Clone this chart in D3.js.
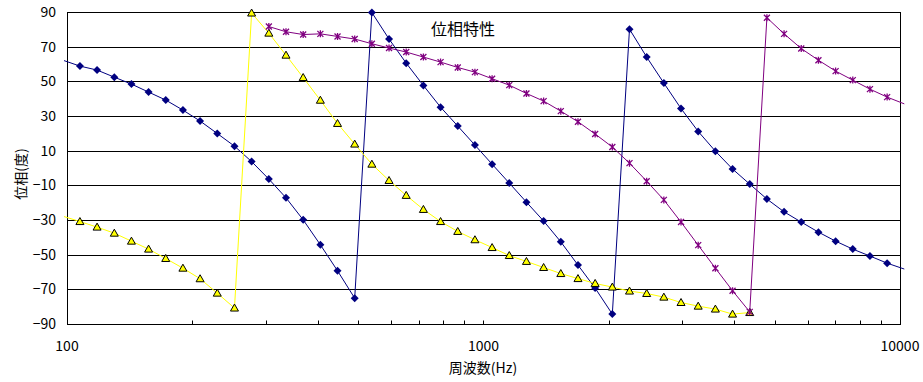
<!DOCTYPE html>
<html><head><meta charset="utf-8">
<script src="https://cdn.jsdelivr.net/npm/d3@7"></script>
<style>body{margin:0;background:#fff;} svg{display:block;}</style>
</head><body>
<script>
const freqs = [97.7,107.4,118.1,129.9,142.8,157.0,172.6,189.8,208.7,229.5,252.4,277.5,305.2,335.6,369.0,405.8,446.2,490.6,539.5,593.2,652.3,717.3,788.7,867.3,953.7,1048.7,1153.1,1268.0,1394.3,1533.2,1685.9,1853.8,2038.5,2241.5,2464.8,2710.3,2980.3,3277.1,3603.6,3962.5,4357.2,4791.2,5268.4,5793.2,6370.2,7004.7,7702.4,8469.6,9313.3,10241];
const blueVals = [62.2,58.8,56.5,52.4,48.4,43.8,39.2,33.4,27.1,19.9,12.6,3.7,-6.4,-17.2,-29.9,-44.3,-59.3,-75.1,89.7,74.4,60.5,47.6,35.1,24.2,13.2,2.2,-8.7,-19.7,-30.6,-42.6,-56,-69.3,-84.3,80.1,64,49,34.3,21.1,9.7,-0.6,-9.3,-17.9,-25.3,-31.2,-37,-42.2,-46.8,-50.8,-54.9,-58.3];
const yellowVals = [-27.8,-30.9,-34.1,-37.6,-42.2,-46.8,-52.2,-57.8,-63.9,-72.2,-80.8,89.4,77.8,65.1,52.2,39.1,25.7,13.8,2.2,-7.2,-15.8,-23.9,-30.9,-36.6,-41.4,-45.9,-50.5,-53.9,-57.4,-60.9,-63.8,-66.6,-68.7,-71,-72.4,-74.5,-77.6,-79.7,-81.4,-84.3,-83.4,null,null,null,null,null,null,null,null,null];
const purpleVals = [null,null,null,null,null,null,null,null,null,null,null,null,81.6,78.6,77,77.4,75.9,74.4,71.7,69.2,66.9,64,61.1,58,55.3,51.5,47.8,43,38.6,32.8,26.7,19.6,12.1,2.8,-7.6,-18.4,-31.2,-44.5,-57.8,-70.8,-83,86.7,77.4,68.9,62.2,55.9,50.7,45.5,40.9,37];
const yTicks = [90,70,50,30,10,-10,-30,-50,-70,-90];
const xTicks = [100,1000,10000];
const titleText = "位相特性";
const xTitle = "周波数(Hz)";
const yTitle = "位相(度)";

const W = 923, H = 382;
const L = 67, R = 900, T = 12, B = 324;
const svg = d3.select("body").append("svg").attr("width", W).attr("height", H);
const x = d3.scaleLog().domain([100,10000]).range([L,R]);
const y = d3.scaleLinear().domain([-90,90]).range([B,T]);
const font = "'Noto Sans CJK JP', sans-serif";

// gridlines
svg.append("g").selectAll("line").data(yTicks).join("line")
  .attr("x1", L).attr("x2", R+1).attr("y1", d=>Math.round(y(d))+0.5).attr("y2", d=>Math.round(y(d))+0.5)
  .attr("stroke", "#000").attr("stroke-width", 1);
// frame
svg.append("line").attr("x1", L+0.5).attr("x2", L+0.5).attr("y1", T).attr("y2", B+1).attr("stroke","#000");
svg.append("line").attr("x1", R+0.5).attr("x2", R+0.5).attr("y1", T).attr("y2", B+1).attr("stroke","#000");

// minor/major x ticks inward
const tickVals = [];
for (let dec of [100,1000]) for (let k=2;k<=9;k++) tickVals.push(dec*k);
tickVals.push(1000);
svg.append("g").selectAll("line").data(tickVals).join("line")
  .attr("x1", d=>Math.round(x(d))+0.5).attr("x2", d=>Math.round(x(d))+0.5)
  .attr("y1", B+0.5).attr("y2", B-3.5).attr("stroke","#000");

// y tick labels
svg.append("g").selectAll("text").data(yTicks).join("text")
  .attr("x", 56).attr("y", d=>y(d)+5).attr("text-anchor","end")
  .attr("font-family", font).attr("font-size", 14).text(d=> d<0 ? "\u2212"+Math.abs(d) : d);
// x tick labels
svg.append("g").selectAll("text").data(xTicks).join("text")
  .attr("x", d=>x(d)).attr("y", 351).attr("text-anchor","middle")
  .attr("font-family", font).attr("font-size", 14).text(d=>d);

// titles
svg.append("text").attr("x", 463).attr("y", 35).attr("text-anchor","middle")
  .attr("font-family", font).attr("font-size", 16).text(titleText);
svg.append("text").attr("x", 483).attr("y", 373).attr("text-anchor","middle")
  .attr("font-family", font).attr("font-size", 14).text(xTitle);
svg.append("text").attr("transform","translate(26,174) rotate(-90)").attr("text-anchor","middle")
  .attr("font-family", font).attr("font-size", 14).text(yTitle);

// clip
svg.append("clipPath").attr("id","clip").append("rect").attr("x",64).attr("y",0).attr("width",841).attr("height",H);

function series(vals, color) {
  const pts = freqs.map((f,i)=>({f, v: vals[i]}));
  const line = d3.line().defined(d=>d.v!=null).x(d=>x(d.f)).y(d=>y(d.v));
  svg.append("path").attr("d", line(pts)).attr("fill","none").attr("stroke",color)
    .attr("stroke-width",1).attr("clip-path","url(#clip)");
  return pts.filter(d=>d.v!=null && d.f>=100 && d.f<=10000);
}
const bPts = series(blueVals, "#000080");
const yPts = series(yellowVals, "#FFFF00");
const pPts = series(purpleVals, "#800080");

// markers
svg.append("g").selectAll("path").data(bPts).join("path")
  .attr("transform", d=>`translate(${x(d.f)},${y(d.v)})`)
  .attr("d","M0,-4L4,0L0,4L-4,0Z").attr("fill","#000080");
svg.append("g").selectAll("path").data(yPts).join("path")
  .attr("transform", d=>`translate(${x(d.f)},${y(d.v)})`)
  .attr("d","M0,-4L4,3L-4,3Z").attr("fill","#FFFF00").attr("stroke","#000").attr("stroke-width",1);
svg.append("g").selectAll("path").data(pPts).join("path")
  .attr("transform", d=>`translate(${x(d.f)},${y(d.v)})`)
  .attr("d","M-3,-3L3,3M3,-3L-3,3M0,-3.5L0,3.5").attr("fill","none").attr("stroke","#800080").attr("stroke-width",1.3);
</script>
</body></html>
